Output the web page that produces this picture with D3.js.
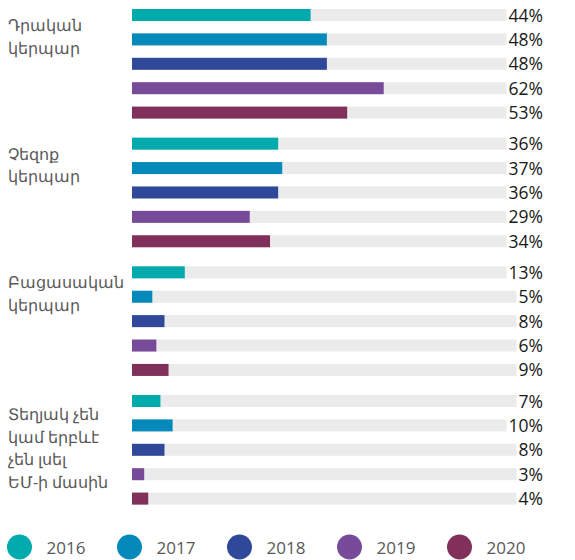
<!DOCTYPE html>
<html>
<head>
<meta charset="utf-8">
<script src="https://cdn.jsdelivr.net/npm/d3@7"></script>
<style>
  body { margin: 0; background: #fff; }
  svg { display: block; }
</style>
</head>
<body>
<div id="chart"></div>
<script>
const width = 575;
const height = 560;

// data
const categories = ["Դրական կերպար", "Չեզոք կերպար", "Բացասական կերպար", "Տեղյակ չեն կամ երբևէ չեն լսել ԵՄ-ի մասին"];
const categoryLines = [
  ["Դրական", "կերպար"],
  ["Չեզոք", "կերպար"],
  ["Բացասական", "կերպար"],
  ["Տեղյակ չեն", "կամ երբևէ", "չեն լսել", "ԵՄ-ի մասին"]
];
const years = ["2016", "2017", "2018", "2019", "2020"];
const values = [
  [44, 48, 48, 62, 53],
  [36, 37, 36, 29, 34],
  [13, 5, 8, 6, 9],
  [7, 10, 8, 3, 4]
];
const colors = ["#00aaad", "#038abb", "#2f4899", "#774b99", "#80305b"];

const svg = d3.select("#chart").append("svg")
  .attr("width", width)
  .attr("height", height)
  .style("font-family", "'Open Sans', 'Noto Sans', sans-serif");

const x = d3.scaleLinear().domain([0, 100]).range([132, 538]);
const yGroup = d3.scalePoint().domain(categories).range([15, 401]);
const yYear = d3.scalePoint().domain(years).range([0, 97.6]);
const color = d3.scaleOrdinal().domain(years).range(colors);
const barH = 12;

const rows = [];
categories.forEach((c, i) => {
  years.forEach((yr, j) => rows.push({ cat: c, year: yr, value: values[i][j] }));
});
const cy = d => yGroup(d.cat) + yYear(d.year);

// grey track
svg.append("g").selectAll("rect")
  .data(rows)
  .join("rect")
  .attr("x", x(0))
  .attr("y", d => cy(d) - barH / 2)
  .attr("width", x(100) - x(0))
  .attr("height", barH)
  .attr("fill", "#ebebeb");

// bars
svg.append("g").selectAll("rect")
  .data(rows)
  .join("rect")
  .attr("x", x(0))
  .attr("y", d => cy(d) - barH / 2)
  .attr("width", d => x(d.value) - x(0))
  .attr("height", barH)
  .attr("fill", d => color(d.year));

// value labels with white backing
const vl = svg.append("g").selectAll("g")
  .data(rows)
  .join("g");
vl.append("rect").attr("fill", "#fff");
vl.append("text")
  .attr("x", 543)
  .attr("y", d => cy(d) + 6.5)
  .attr("text-anchor", "end")
  .attr("font-size", 17.5)
  .attr("fill", "#1a1a1a")
  .text(d => d.value + "%");
vl.each(function () {
  const t = d3.select(this).select("text").node().getBBox();
  d3.select(this).select("rect")
    .attr("x", t.x - 2)
    .attr("y", t.y)
    .attr("width", t.width + 2)
    .attr("height", t.height);
});

// category labels
svg.append("g").selectAll("text")
  .data(categories)
  .join("text")
  .attr("x", 8)
  .attr("y", (d, i) => yGroup(d) + (i === 3 ? 19 : 16))
  .attr("font-size", 16)
  .attr("fill", "#595959")
  .each(function (d, i) {
    d3.select(this).selectAll("tspan")
      .data(categoryLines[i])
      .join("tspan")
      .attr("x", 8)
      .attr("dy", (l, k) => k === 0 ? 0 : 22.7)
      .text(l => l);
  });

// legend
const lx = d3.scalePoint().domain(years).range([19.5, 459.5]);
const leg = svg.append("g").selectAll("g")
  .data(years)
  .join("g")
  .attr("transform", d => `translate(${lx(d)},547)`);
leg.append("circle").attr("r", 12.5).attr("fill", d => color(d));
leg.append("text")
  .attr("x", 27)
  .attr("y", 7)
  .attr("font-size", 17)
  .attr("fill", "#595959")
  .text(d => d);
</script>
</body>
</html>
